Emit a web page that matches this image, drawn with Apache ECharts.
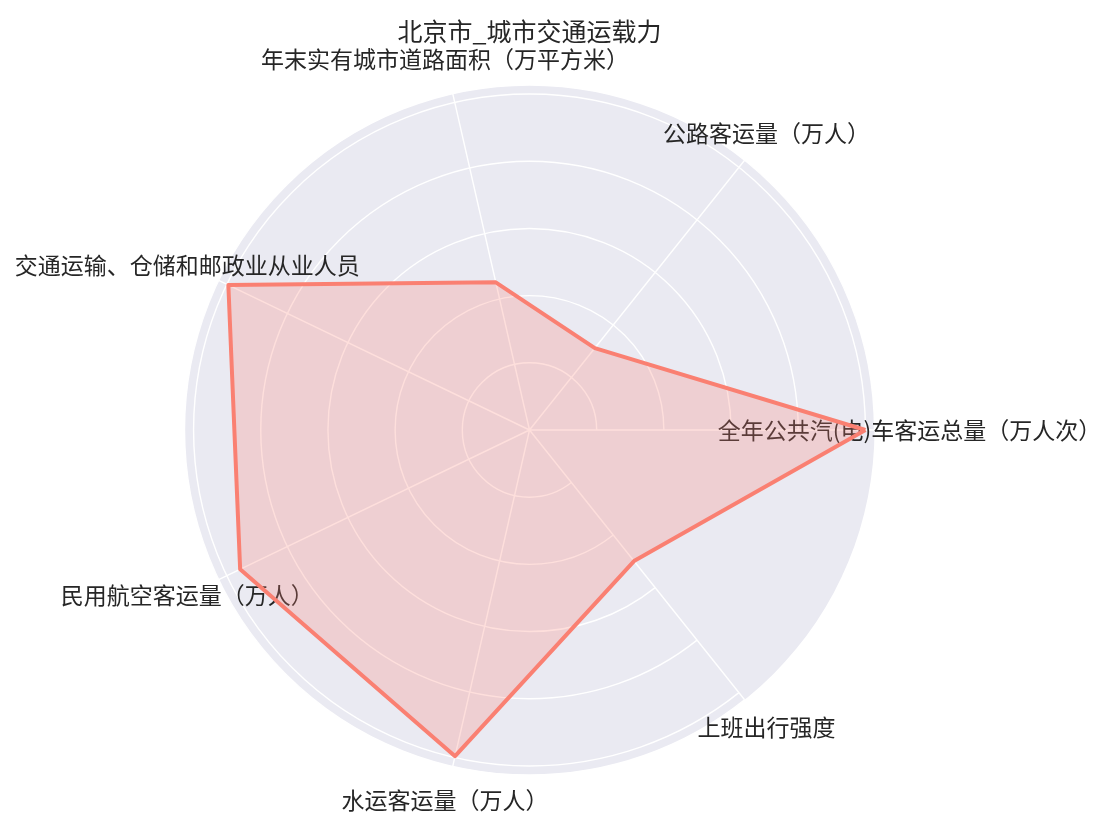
<!DOCTYPE html>
<html><head><meta charset="utf-8">
<script src="https://cdn.jsdelivr.net/npm/echarts@6/dist/echarts.min.js"></script>
<style>html,body{margin:0;padding:0;background:#fff}#c{width:1120px;height:827px}</style>
</head><body><div id="c"></div>
<script>
const titleText = '北京市_城市交通运载力';
const indicators = [
  '全年公共汽(电)车客运总量（万人次）',
  '公路客运量（万人）',
  '年末实有城市道路面积（万平方米）',
  '交通运输、仓储和邮政业从业人员',
  '民用航空客运量（万人）',
  '水运客运量（万人）',
  '上班出行强度'
];
const values = [1.0, 0.312, 0.451, 0.995, 0.956, 0.996, 0.499];
const radiusMax = 1.027;
const radiusInterval = 0.2;
const labelRadius = 1.131;

const FONT = '"Noto Sans CJK SC", "Noto Sans", sans-serif';
const chart = echarts.init(document.getElementById('c'), null, {renderer: 'canvas'});

const labelData = indicators.map(n => [labelRadius, n]);

const center = [529.5, 430];
const outerR = 345;

const option = {
  animation: false,
  backgroundColor: '#ffffff',
  title: {
    text: titleText,
    left: 524.5,
    top: 14,
    textAlign: 'center',
    textStyle: {fontFamily: FONT, fontSize: 25, fontWeight: 'normal', color: '#262626'}
  },
  polar: [
    {center: center, radius: outerR},
    {center: center, radius: outerR}
  ],
  radar: {
    center: center,
    radius: outerR,
    startAngle: 0,
    shape: 'circle',
    splitNumber: 1,
    indicator: indicators.map(n => ({name: n, min: 0, max: radiusMax})),
    axisName: {show: false},
    axisLine: {show: false},
    axisTick: {show: false},
    axisLabel: {show: false},
    splitLine: {show: false},
    splitArea: {show: false}
  },
  angleAxis: [
    {
      polarIndex: 0, type: 'category', data: indicators, startAngle: 0, clockwise: false,
      boundaryGap: false, z: 0,
      axisLine: {show: false}, axisTick: {show: false}, axisLabel: {show: false},
      splitLine: {show: false}, splitArea: {show: false}
    },
    {
      polarIndex: 1, type: 'category', data: indicators, startAngle: 0, clockwise: false,
      boundaryGap: false, z: 1,
      axisLine: {show: false}, axisTick: {show: false}, axisLabel: {show: false},
      splitLine: {show: true, lineStyle: {color: '#ffffff', width: 1.4}},
      splitArea: {show: false}
    }
  ],
  radiusAxis: [
    {
      polarIndex: 0, type: 'value', min: 0, max: radiusMax, interval: radiusInterval, z: 0,
      axisLine: {show: false}, axisTick: {show: false}, axisLabel: {show: false},
      splitLine: {show: false},
      splitArea: {show: true, areaStyle: {color: ['#EAEAF2']}}
    },
    {
      polarIndex: 1, type: 'value', min: 0, max: radiusMax, interval: radiusInterval, z: 1,
      axisLine: {show: false}, axisTick: {show: false}, axisLabel: {show: false},
      splitLine: {show: true, lineStyle: {color: '#ffffff', width: 1.4}},
      splitArea: {show: false}
    }
  ],
  series: [
    {
      type: 'scatter', coordinateSystem: 'polar', polarIndex: 1, clip: false, z: 2,
      symbolSize: 2, itemStyle: {color: 'rgba(0,0,0,0)'},
      silent: true,
      data: labelData,
      label: {
        show: true, position: 'inside', opacity: 1,
        formatter: p => indicators[p.dataIndex],
        fontFamily: FONT, fontSize: 23, color: '#262626'
      }
    },
    {
      type: 'radar', z: 3,
      symbol: 'none',
      data: [{value: values, name: titleText}],
      lineStyle: {color: '#FA8072', width: 4, join: 'round', opacity: 1},
      areaStyle: {color: 'rgba(250,128,114,0.25)', opacity: 1}
    }
  ]
};
chart.setOption(option);
</script>
</body></html>
